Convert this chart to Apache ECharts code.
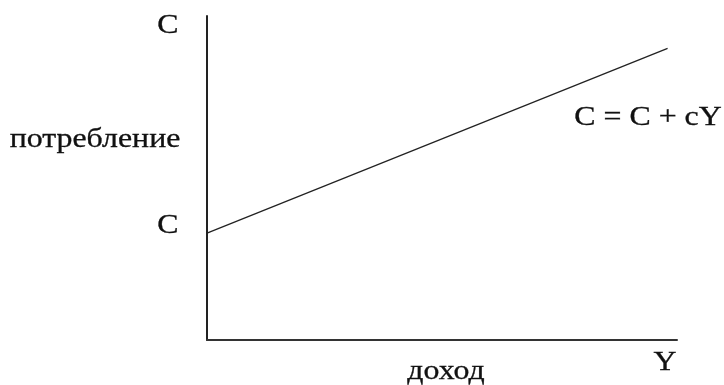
<!DOCTYPE html>
<html>
<head>
<meta charset="utf-8">
<script src="https://cdn.jsdelivr.net/npm/echarts@6/dist/echarts.min.js"></script>
<style>
  html, body { margin: 0; padding: 0; background: #fff; }
  #chart { width: 724px; height: 385px; }
</style>
</head>
<body>
<div id="chart"></div>
<script>
// доход (Y) и потребление (C)
var incomeX = [0, 98];
var consumption = [33, 90];
var axisNames = ['C', 'Y'];
var axisTitles = ['потребление', 'доход'];
var interceptLabel = 'C';
var lineLabel = 'C = C + cY';

var chart = echarts.init(document.getElementById('chart'));
var font = '"Liberation Serif", "DejaVu Serif", serif';

function label(text, x, y) {
  return {
    type: 'text', x: x, y: y, scaleX: 1.18,
    style: {
      text: text, align: 'center', verticalAlign: 'middle',
      fontFamily: font, fontSize: 27, fill: '#111',
      stroke: '#111', lineWidth: 0.3
    }
  };
}

var option = {
  animation: false,
  grid: { left: 207, top: 16, width: 470, height: 324 },
  xAxis: {
    type: 'value', min: 0, max: 100,
    axisLine: { lineStyle: { color: '#333', width: 2 } },
    axisTick: { show: false }, axisLabel: { show: false }, splitLine: { show: false }
  },
  yAxis: {
    type: 'value', min: 0, max: 100,
    axisLine: { show: true, lineStyle: { color: '#222', width: 2 } },
    axisTick: { show: false }, axisLabel: { show: false }, splitLine: { show: false }
  },
  series: [{
    type: 'line',
    data: incomeX.map(function (x, i) { return [x, consumption[i]]; }),
    showSymbol: false,
    lineStyle: { color: '#222', width: 1.3 }
  }],
  graphic: [
    label(axisNames[0], 168, 26),
    label(axisTitles[0], 95, 140),
    label(interceptLabel, 168, 226),
    label(lineLabel, 648, 118),
    label(axisTitles[1], 446, 372),
    label(axisNames[1], 665, 363)
  ]
};
chart.setOption(option);
</script>
</body>
</html>
